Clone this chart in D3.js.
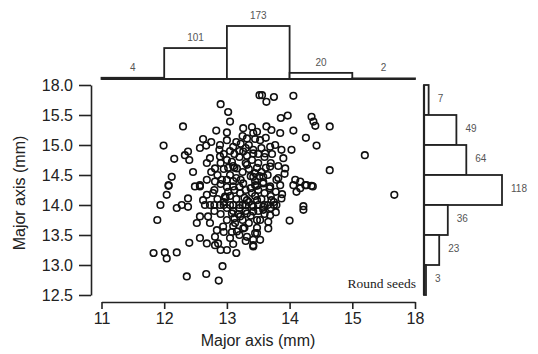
<!DOCTYPE html>
<html><head><meta charset="utf-8">
<script src="https://cdn.jsdelivr.net/npm/d3@7/dist/d3.min.js"></script>
<style>body{margin:0;background:#fff}svg{display:block}</style>
</head><body>
<script>
// ---- data ----
const xTicks = [11, 12, 13, 14, 15, 16];
const xTickLabels = ["11", "12", "13", "14", "15", "18"];
const yTicks = [12.5, 13, 13.5, 14, 14.5, 15, 15.5, 16];
const yTickLabels = ["12.5", "13.0", "13.5", "14.0", "14.5", "15.0", "15.5", "18.0"];
const topBins = [[11, 12], [12, 13], [13, 14], [14, 15], [15, 16]];
const topCounts = [4, 101, 173, 20, 2];
const rightBins = [[15.5, 16], [15, 15.5], [14.5, 15], [14, 14.5], [13.5, 14], [13, 13.5], [12.5, 13]];
const rightCounts = [7, 49, 64, 118, 36, 23, 3];
const xTitle = "Major axis (mm)";
const yTitle = "Major axis (mm)";
const noteText = "Round seeds";
const seedX = [
13.52,12.90,13.02,13.05,12.30,12.83,13.26,13.00,11.99,12.62,12.67,12.57,12.16,12.38,12.40,12.33,12.73,12.68,12.46,12.12,12.07,12.89,13.00,13.10,13.32,13.26,13.42,12.89,13.08,12.81,13.16,12.68,12.57,13.32,13.42,13.00,12.81,13.26,
13.56,13.63,13.75,14.06,13.86,13.97,14.35,14.41,14.64,14.38,13.63,13.48,13.71,13.85,14.06,14.26,14.43,15.20,14.64,14.03,13.87,13.69,13.53,13.77,13.61,13.90,13.42,13.93,13.69,13.50,13.45,13.58,13.79,14.09,14.25,14.35,14.17,
12.07,12.04,11.94,11.89,12.20,12.28,12.38,12.38,12.52,12.57,12.70,12.73,12.84,12.81,12.94,12.57,12.68,12.81,12.86,12.40,11.83,12.01,12.04,12.20,12.93,12.36,12.67,12.87,13.16,13.13,13.26,13.32,13.42,13.48,12.57,12.68,12.78,12.73,12.89,13.10,13.08,13.21,13.32,12.62,12.97,13.21,13.32,13.42,13.48,12.49,13.10,
13.45,13.58,13.69,13.85,14.06,14.17,14.27,14.37,14.11,13.87,13.71,13.79,13.48,13.58,13.42,14.22,14.22,13.69,13.53,13.66,14.00,13.66,13.45,13.42,13.53,13.42,15.67,
12.75,12.85,12.95,13.05,13.15,13.25,13.35,13.45,13.55,13.65,
12.80,12.90,13.00,13.10,13.20,13.30,13.40,13.50,13.60,13.70,
12.85,12.95,13.05,13.15,13.25,13.35,13.45,13.55,13.65,13.75,
12.80,12.90,13.00,13.10,13.20,13.30,13.40,13.50,13.60,13.70,
12.90,13.00,13.10,13.20,13.30,13.40,13.50,13.60,13.70,13.20,
13.00,13.10,13.25,13.35,12.95,13.05,13.20,13.30,12.90,13.10,
13.35,13.15,13.05,13.45,13.55,13.25,12.75,12.95,13.40,13.30,
12.65,12.80,12.95,13.05,13.20,13.30,13.50,13.60,13.75,13.00,13.15,
13.12,13.22,13.38,13.48,13.58,13.68,13.78,13.82,13.28,13.38,
13.02,12.92,13.12,13.48,13.62,13.72,13.82,13.42,13.12,13.02,
13.18,13.38,13.58,13.28,13.12,12.98,13.52,13.32,13.62,13.92,
13.88,13.78,13.22,12.88,13.48,13.08
];
const seedY = [
15.83,15.68,15.55,15.39,15.31,15.24,15.28,15.21,14.99,15.10,14.99,14.95,14.77,14.89,14.75,14.83,14.78,14.70,14.55,14.47,14.32,15.00,15.08,14.97,15.11,14.89,15.20,14.81,14.72,14.61,14.61,14.42,14.31,14.67,14.47,14.42,14.39,14.36,
15.83,15.72,15.80,15.82,15.45,15.49,15.47,15.32,15.31,15.39,15.31,15.22,15.25,15.20,15.24,15.12,14.99,14.83,14.58,14.92,14.92,14.97,15.08,15.00,14.86,14.78,14.86,14.61,14.64,14.70,14.53,14.47,14.42,14.42,14.33,14.32,14.28,
14.33,14.17,14.00,13.75,13.95,14.00,14.11,13.97,13.70,13.81,13.81,13.70,13.58,13.47,13.64,13.45,13.36,13.33,13.36,13.37,13.20,13.21,13.11,13.21,12.98,12.81,12.85,12.74,13.56,13.70,13.61,13.47,13.33,13.53,14.33,14.17,14.20,14.00,14.00,14.00,13.86,13.81,13.86,14.08,14.14,14.20,14.08,13.97,13.75,14.31,14.31,
14.33,14.36,14.31,14.33,14.33,14.39,14.33,14.31,14.22,14.11,14.08,14.00,14.08,13.97,13.89,13.98,13.92,13.83,13.75,13.72,13.74,13.61,13.53,13.42,13.42,13.31,14.17,
14.55,14.50,14.60,14.50,14.45,14.55,14.60,14.40,14.55,14.50,
14.25,14.35,14.30,14.40,14.30,14.25,14.20,14.25,14.20,14.15,
14.10,14.05,14.15,14.10,14.00,14.05,14.15,14.10,14.00,14.05,
13.90,13.85,13.95,13.90,13.95,13.90,14.00,13.90,13.85,13.95,
14.70,14.75,14.65,14.80,14.70,14.75,14.85,14.80,14.70,14.90,
13.75,13.65,13.75,13.70,13.55,13.45,13.50,13.40,13.25,13.35,
15.00,15.05,14.90,15.10,14.95,15.15,15.05,14.85,15.30,14.95,
14.00,14.00,14.00,14.00,14.00,14.00,14.00,14.00,14.00,13.25,13.20,
14.62,14.42,14.48,14.62,14.38,14.28,14.22,14.45,14.12,14.28,
14.22,14.42,14.25,14.32,14.62,14.85,14.65,14.92,14.85,14.62,
13.85,13.82,13.92,13.62,13.78,14.12,14.48,14.82,15.12,14.52,
14.18,13.88,15.02,14.92,13.62,13.55
];

// ---- drawing ----
const W = 538, H = 354;
const svg = d3.select("body").append("svg").attr("width", W).attr("height", H);
const ink = "#222";
const x = d3.scaleLinear().domain([11, 16]).range([101.5, 415]);
const y = d3.scaleLinear().domain([12.5, 16]).range([295, 85]);

// top histogram
const topBase = 79;
const hTop = d3.scaleLinear().domain([0, 173]).range([0, 53]);
const gTop = svg.append("g");
gTop.selectAll("rect").data(topCounts).join("rect")
  .attr("x", (d, i) => x(topBins[i][0]))
  .attr("y", d => topBase - hTop(d))
  .attr("width", (d, i) => x(topBins[i][1]) - x(topBins[i][0]))
  .attr("height", d => hTop(d))
  .attr("fill", "#fff").attr("stroke", ink).attr("stroke-width", 1.8);
gTop.append("line").attr("x1", x(11)).attr("x2", x(16)).attr("y1", topBase).attr("y2", topBase)
  .attr("stroke", ink).attr("stroke-width", 2.2);
gTop.selectAll("text").data(topCounts).join("text")
  .attr("x", (d, i) => (x(topBins[i][0]) + x(topBins[i][1])) / 2)
  .attr("y", d => topBase - hTop(d) - 7)
  .attr("text-anchor", "middle")
  .attr("font-family", "Liberation Sans, Arial, sans-serif").attr("font-size", 10)
  .attr("fill", "#555").text(d => d);

// right histogram
const rightBase = 424;
const wRight = d3.scaleLinear().domain([0, 118]).range([0, 78]);
const gRight = svg.append("g");
gRight.selectAll("rect").data(rightCounts).join("rect")
  .attr("x", rightBase)
  .attr("y", (d, i) => y(rightBins[i][1]))
  .attr("width", d => wRight(d))
  .attr("height", (d, i) => y(rightBins[i][0]) - y(rightBins[i][1]))
  .attr("fill", "#fff").attr("stroke", ink).attr("stroke-width", 1.8);
gRight.append("line").attr("x1", rightBase).attr("x2", rightBase).attr("y1", y(16)).attr("y2", y(12.5))
  .attr("stroke", ink).attr("stroke-width", 2.2);
gRight.selectAll("text").data(rightCounts).join("text")
  .attr("x", d => rightBase + wRight(d) + 9)
  .attr("y", (d, i) => (y(rightBins[i][0]) + y(rightBins[i][1])) / 2 + 1.5)
  .attr("font-family", "Liberation Sans, Arial, sans-serif").attr("font-size", 10)
  .attr("fill", "#555").text(d => d);

// scatter
const pts = seedX.map((v, i) => [v, seedY[i]]);
svg.append("g").selectAll("circle").data(pts).join("circle")
  .attr("cx", d => x(d[0])).attr("cy", d => y(d[1])).attr("r", 3.3)
  .attr("fill", "none").attr("stroke", "#111").attr("stroke-width", 1.6);

// axes
const xAxis = d3.axisBottom(x).tickValues(xTicks).tickFormat((d, i) => xTickLabels[i])
  .tickSize(7).tickPadding(4).tickSizeOuter(0);
const gx = svg.append("g").attr("transform", "translate(0,302)").call(xAxis);
const yAxis = d3.axisLeft(y).tickValues(yTicks).tickFormat((d, i) => yTickLabels[i])
  .tickSize(12).tickPadding(6).tickSizeOuter(0);
const gy = svg.append("g").attr("transform", "translate(91,0)").call(yAxis);
[gx, gy].forEach(g => {
  g.select(".domain").attr("stroke", ink).attr("stroke-width", 1.6);
  g.selectAll(".tick line").attr("stroke", ink).attr("stroke-width", 1.6);
  g.selectAll(".tick text").attr("fill", "#222").attr("font-size", 16)
    .attr("font-family", "Liberation Sans, Arial, sans-serif");
});

svg.append("text").attr("x", 258).attr("y", 346).attr("text-anchor", "middle")
  .attr("font-family", "Liberation Sans, Arial, sans-serif").attr("font-size", 16)
  .attr("fill", "#222").text(xTitle);
svg.append("text").attr("transform", "translate(25,193) rotate(-90)").attr("text-anchor", "middle")
  .attr("font-family", "Liberation Sans, Arial, sans-serif").attr("font-size", 16)
  .attr("fill", "#222").text(yTitle);
svg.append("text").attr("x", 416).attr("y", 288).attr("text-anchor", "end")
  .attr("font-family", "Liberation Serif, Times New Roman, serif").attr("font-size", 13.5)
  .attr("fill", "#222").text(noteText);
</script>
</body></html>
